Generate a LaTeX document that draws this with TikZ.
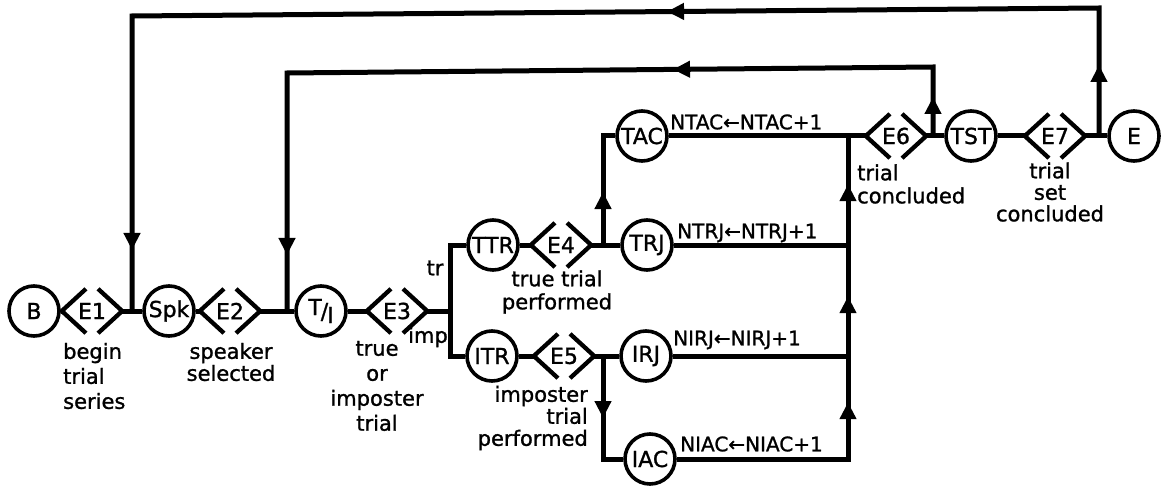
\documentclass[tikz,border=0pt]{standalone}
\usepackage{fontspec}
\setmainfont{DejaVu Sans}[FakeBold=1.2]
\usetikzlibrary{calc,arrows.meta,decorations.markings}
\newcommand\mytri{\arrow{Triangle[length=17pt,width=16pt]}}
\newcommand\mydiamond[3]{%
  \node[dbox] (#1) at (#2) {#3};
  \draw[dstroke] ($(#1.west)!0.8!(#1.north)$) -- (#1.west) -- ($(#1.west)!0.8!(#1.south)$);
  \draw[dstroke] ($(#1.east)!0.8!(#1.north)$) -- (#1.east) -- ($(#1.east)!0.8!(#1.south)$);
}
\begin{document}
\begin{tikzpicture}[x=1pt,y=-1pt,
  circ/.style={circle,draw,line width=3.6pt,minimum size=50pt,inner sep=0pt,font=\fontsize{22}{22}\selectfont},
  dbox/.style={rectangle,draw=none,minimum width=60pt,minimum height=55pt,inner sep=0pt,font=\fontsize{22}{22}\selectfont},
  wire/.style={line width=5pt},
  dstroke/.style={line width=4.3pt},
  lbl/.style={font=\fontsize{21}{23}\selectfont,inner sep=0pt},
  eq/.style={font=\fontsize{20}{23}\selectfont,inner sep=0pt,anchor=west}
]
\useasboundingbox (0,0) rectangle (1161,489);
% main row
\node[circ] (B) at (34,311) {B};
\mydiamond{E1}{92,311}{E1}
\node[circ] (Spk) at (169,311) {Spk};
\mydiamond{E2}{230,311}{E2}
\node[circ] (TI) at (321,311) {\raisebox{4pt}{T}\kern-1pt/\kern-1pt\raisebox{-4pt}{I}};
\mydiamond{E3}{397,311}{E3}
\coordinate (br) at (450,311);
\coordinate (brT) at (450,245);
\coordinate (brI) at (450,356);
% true branch
\node[circ] (TTR) at (493,245) {TTR};
\mydiamond{E4}{561,245}{E4}
\coordinate (j4) at (603,245);
\node[circ] (TRJ) at (647,245) {TRJ};
\node[circ] (TAC) at (642,136) {TAC};
\coordinate (j4t) at (603,136);
% imposter branch
\node[circ] (ITR) at (492,356) {ITR};
\mydiamond{E5}{564,356}{E5}
\coordinate (j5) at (603,356);
\node[circ] (IRJ) at (646,356) {IRJ};
\node[circ] (IAC) at (650,459) {IAC};
\coordinate (j5b) at (603,459);
% merge
\coordinate (m) at (848,136);
\coordinate (mT) at (848,245);
\coordinate (mI) at (848,356);
\coordinate (mA) at (848,459);
% top row
\mydiamond{E6}{896,136}{E6}
\coordinate (j6) at (933,136);
\node[circ] (TST) at (971,136) {TST};
\mydiamond{E7}{1055,136}{E7}
\coordinate (j7) at (1099,136);
\node[circ] (E) at (1134,136) {E};
% loop corners
\coordinate (c1) at (1099,8);
\coordinate (c2) at (132,16);
\coordinate (c3) at (933,67);
\coordinate (c4) at (287,73);
\coordinate (j1) at (132,311);
\coordinate (j2) at (287,311);

% wires
\draw[wire] (B) -- (E1.west);
\draw[wire] (E1.east) -- (Spk);
\draw[wire] (Spk) -- (E2.west);
\draw[wire] (E2.east) -- (TI);
\draw[wire] (TI) -- (E3.west);
\draw[wire] (E3.east) -- (br);
\draw[wire] (TTR) -- (brT) -- (brI) -- (ITR);
\draw[wire] (TTR) -- (E4.west);
\draw[wire] (E4.east) -- (TRJ);
\draw[wire,postaction={decorate},decoration={markings,mark=at position 53pt with {\mytri}}] (j4) -- (j4t) -- (TAC);
\draw[wire] (TRJ) -- (mT);
\draw[wire] (ITR) -- (E5.west);
\draw[wire] (E5.east) -- (IRJ);
\draw[wire,postaction={decorate},decoration={markings,mark=at position 62pt with {\mytri}}] (j5) -- (j5b) -- (IAC);
\draw[wire] (IRJ) -- (mI);
\draw[wire,postaction={decorate},decoration={markings,
  mark=at position 228pt with {\mytri},
  mark=at position 334pt with {\mytri},
  mark=at position 446pt with {\mytri}}] (IAC) -- (mA) -- (m);
\draw[wire] (TAC) -- (E6.west);
\draw[wire] (E6.east) -- (TST);
\draw[wire] (TST) -- (E7.west);
\draw[wire] (E7.east) -- (E);
\draw[wire,postaction={decorate},decoration={markings,
  mark=at position 39pt with {\mytri},
  mark=at position 329pt with {\mytri},
  mark=at position 897pt with {\mytri}}] (j6) -- (c3) -- (c4) -- (j2);
\draw[wire,postaction={decorate},decoration={markings,
  mark=at position 71pt with {\mytri},
  mark=at position 560pt with {\mytri},
  mark=at position 1329pt with {\mytri}}] (j7) -- (c1) -- (c2) -- (j1);

% labels
\node[lbl,align=left,anchor=west,font=\fontsize{21}{25}\selectfont] (l1) at (63,376) {begin\\trial\\series};
\node[lbl,align=center,font=\fontsize{21}{22}\selectfont] (l2) at (231,362) {speaker\\selected};
\node[lbl,align=center,font=\fontsize{21}{25}\selectfont] (l3) at (377,386) {true\\or\\imposter\\trial};
\node[lbl,align=center] (l4) at (557,292) {true trial\\performed};
\node[lbl,align=right,anchor=east,font=\fontsize{21}{22}\selectfont] (l5) at (588,418) {imposter\\trial\\performed};
\node[lbl,align=left,anchor=west] (l6) at (857,184) {trial\\concluded};
\node[lbl,align=center,font=\fontsize{21}{21.5}\selectfont] (l7) at (1050,192) {trial\\set\\concluded};
\node[lbl] (ltr) at (435,268) {tr};
\node[lbl] (limp) at (428,337) {imp};
\node[eq] (q1) at (670,122) {NTAC←NTAC+1};
\node[eq] (q2) at (677,233) {NTRJ←NTRJ+1};
\node[eq] (q3) at (673,340) {NIRJ←NIRJ+1};
\node[eq] (q4) at (680,444) {NIAC←NIAC+1};
\end{tikzpicture}
\end{document}
